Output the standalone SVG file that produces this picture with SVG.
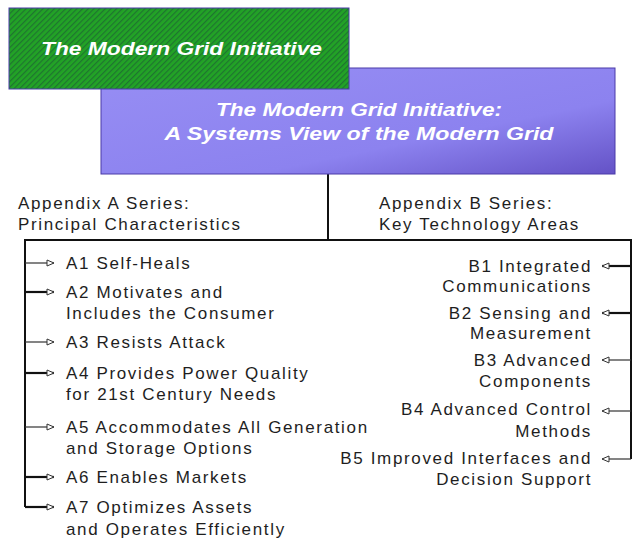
<svg xmlns="http://www.w3.org/2000/svg" width="633" height="546" viewBox="0 0 633 546">
  <defs>
    <pattern id="stripes" width="4" height="4" patternUnits="userSpaceOnUse" patternTransform="rotate(45)">
      <rect width="4" height="4" fill="#22a326"/>
      <rect width="1.2" height="4" fill="#1f7430"/>
    </pattern>
    <linearGradient id="purpleGrad" x1="0" y1="0" x2="1" y2="1">
      <stop offset="0" stop-color="#978ef4"/>
      <stop offset="0.65" stop-color="#8c82ef"/>
      <stop offset="1" stop-color="#6452c6"/>
    </linearGradient>
    <marker id="openArrow" markerWidth="10" markerHeight="8" refX="8" refY="4" orient="auto" markerUnits="userSpaceOnUse">
      <path d="M1,1 L8,4 L1,7 Z" fill="#fff" stroke="#333" stroke-width="1"/>
    </marker>
  </defs>
  <style>
    .title { font-family: "Liberation Sans", Arial, sans-serif; font-weight: bold; font-style: italic; font-size: 18px; fill: #ffffff; }
    .lbl { font-family: "Liberation Sans", Arial, sans-serif; font-size: 17px; letter-spacing: 1.65px; fill: #1e1e1e; }
    .rt { text-anchor: end; }
    .line { stroke: #111; stroke-width: 2; fill: none; }
    .arr { stroke: #111; fill: none; marker-end: url(#openArrow); }
    .thin { stroke-width: 1.2; stroke: #333; }
    .thick { stroke-width: 2.2; }
  </style>
  <rect width="633" height="546" fill="#ffffff"/>

  <g id="connectors">
    <line class="line" x1="328" y1="174" x2="328" y2="240" stroke-width="1.5"/>
    <polyline class="line" points="25,507 25,240 631,240 631,459"/>
    <line class="arr thin" x1="25" y1="263" x2="54" y2="263"/>
    <line class="arr thick" x1="25" y1="292" x2="54" y2="292"/>
    <line class="arr thin" x1="25" y1="342" x2="54" y2="342"/>
    <line class="arr thick" x1="25" y1="373" x2="54" y2="373"/>
    <line class="arr thin" x1="25" y1="427" x2="54" y2="427"/>
    <line class="arr thick" x1="25" y1="477" x2="54" y2="477"/>
    <line class="arr thick" x1="25" y1="507" x2="54" y2="507"/>
    <line class="arr thick" x1="631" y1="266" x2="602" y2="266"/>
    <line class="arr thick" x1="631" y1="313" x2="602" y2="313"/>
    <line class="arr thin" x1="631" y1="360" x2="602" y2="360"/>
    <line class="arr thin" x1="631" y1="411" x2="602" y2="411"/>
    <line class="arr thin" x1="631" y1="459" x2="602" y2="459"/>
  </g>

  <g id="title-systems-view">
    <rect x="101" y="68" width="514" height="106" fill="url(#purpleGrad)" stroke="#4a3aa8" stroke-width="1"/>
    <text class="title" x="359" y="116" text-anchor="middle" textLength="286" lengthAdjust="spacingAndGlyphs">The Modern Grid Initiative:</text>
    <text class="title" x="359" y="140" text-anchor="middle" textLength="389" lengthAdjust="spacingAndGlyphs">A Systems View of the Modern Grid</text>
  </g>

  <g id="title-initiative">
    <rect x="9" y="8" width="340" height="81" fill="url(#stripes)" stroke="#4a3aa8" stroke-width="1"/>
    <text class="title" x="41" y="55" textLength="281" lengthAdjust="spacingAndGlyphs">The Modern Grid Initiative</text>
  </g>

  <g id="heading-a">
    <text class="lbl" x="18" y="209">Appendix A Series:</text>
    <text class="lbl" x="18" y="230">Principal Characteristics</text>
  </g>
  <g id="heading-b">
    <text class="lbl" x="379" y="209">Appendix B Series:</text>
    <text class="lbl" x="379" y="230">Key Technology Areas</text>
  </g>

  <g id="A1"><text class="lbl" x="66" y="269">A1 Self-Heals</text></g>
  <g id="A2">
    <text class="lbl" x="66" y="298">A2 Motivates and</text>
    <text class="lbl" x="66" y="319">Includes the Consumer</text>
  </g>
  <g id="A3"><text class="lbl" x="66" y="348">A3 Resists Attack</text></g>
  <g id="A4">
    <text class="lbl" x="66" y="379">A4 Provides Power Quality</text>
    <text class="lbl" x="66" y="400">for 21st Century Needs</text>
  </g>
  <g id="A5">
    <text class="lbl" x="66" y="433">A5 Accommodates All Generation</text>
    <text class="lbl" x="66" y="454">and Storage Options</text>
  </g>
  <g id="A6"><text class="lbl" x="66" y="483">A6 Enables Markets</text></g>
  <g id="A7">
    <text class="lbl" x="66" y="513">A7 Optimizes Assets</text>
    <text class="lbl" x="66" y="535">and Operates Efficiently</text>
  </g>

  <g id="B1">
    <text class="lbl rt" x="592" y="272">B1 Integrated</text>
    <text class="lbl rt" x="592" y="292">Communications</text>
  </g>
  <g id="B2">
    <text class="lbl rt" x="592" y="319">B2 Sensing and</text>
    <text class="lbl rt" x="592" y="339">Measurement</text>
  </g>
  <g id="B3">
    <text class="lbl rt" x="592" y="366">B3 Advanced</text>
    <text class="lbl rt" x="592" y="387">Components</text>
  </g>
  <g id="B4">
    <text class="lbl rt" x="592" y="415">B4 Advanced Control</text>
    <text class="lbl rt" x="592" y="437">Methods</text>
  </g>
  <g id="B5">
    <text class="lbl rt" x="592" y="464">B5 Improved Interfaces and</text>
    <text class="lbl rt" x="592" y="485">Decision Support</text>
  </g>
</svg>
